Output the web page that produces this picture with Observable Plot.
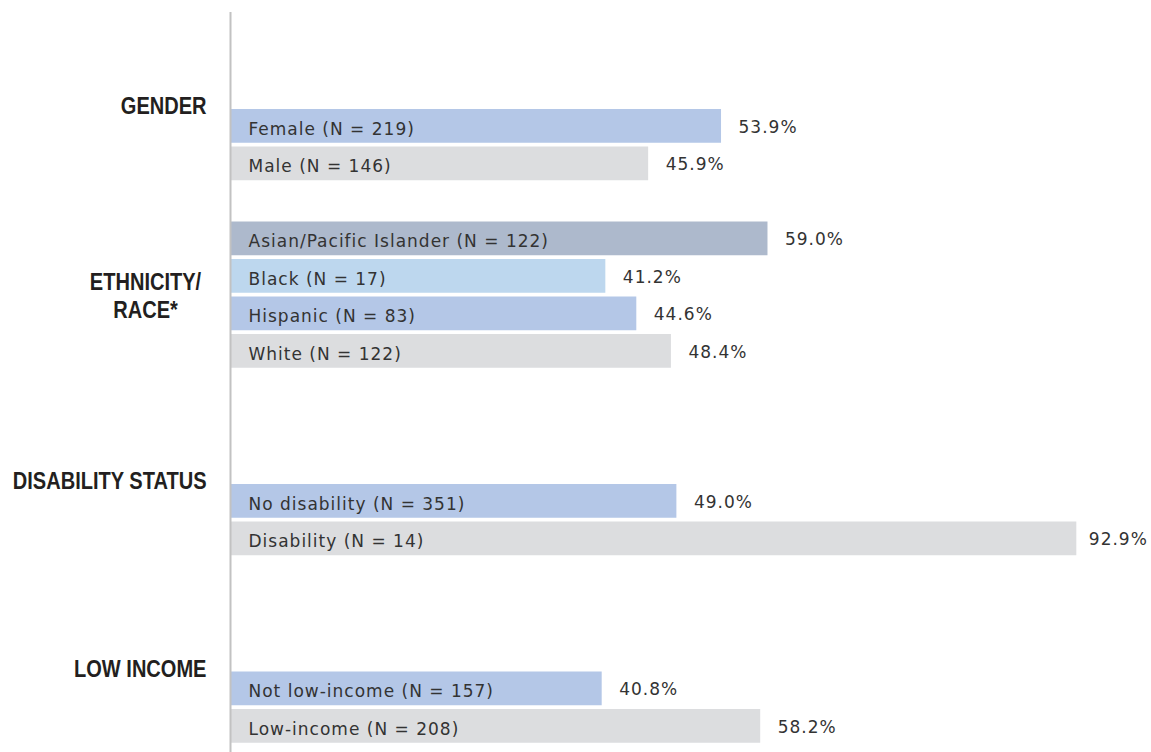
<!DOCTYPE html>
<html>
<head>
<meta charset="utf-8">
<script src="https://cdn.jsdelivr.net/npm/d3@7"></script>
<script src="https://cdn.jsdelivr.net/npm/@observablehq/plot@0.6"></script>
<style>
  html, body { margin: 0; padding: 0; background: #ffffff; }
  #chart svg { display: block; }
</style>
</head>
<body>
<div id="chart"></div>
<script>
// ---- Data ----
const categories = [
  "Female (N = 219)", "Male (N = 146)",
  "Asian/Pacific Islander (N = 122)", "Black (N = 17)", "Hispanic (N = 83)", "White (N = 122)",
  "No disability (N = 351)", "Disability (N = 14)",
  "Not low-income (N = 157)", "Low-income (N = 208)"
];
const values = [53.9, 45.9, 59.0, 41.2, 44.6, 48.4, 49.0, 92.9, 40.8, 58.2];
const groups = [
  "GENDER", "GENDER",
  "ETHNICITY/\nRACE*", "ETHNICITY/\nRACE*", "ETHNICITY/\nRACE*", "ETHNICITY/\nRACE*",
  "DISABILITY STATUS", "DISABILITY STATUS",
  "LOW INCOME", "LOW INCOME"
];
const groupNames = ["GENDER", "ETHNICITY/\nRACE*", "DISABILITY STATUS", "LOW INCOME"];

// ---- Styles ----
const barColors = [
  "#b4c7e7", "#dcdddf",
  "#adb9cc", "#bdd7ee", "#b4c7e7", "#dcdddf",
  "#b4c7e7", "#dcdddf",
  "#b4c7e7", "#dcdddf"
];
const spacerRows = {"ETHNICITY/\nRACE*": 1, "DISABILITY STATUS": 3, "LOW INCOME": 3};

const data = categories.map((c, i) => ({category: c, value: values[i], group: groups[i]}));

// y domain with blank spacer rows between groups
const yDomain = [];
groupNames.forEach(g => {
  for (let k = 0; k < (spacerRows[g] || 0); k++) yDomain.push("__gap_" + g + k);
  data.filter(d => d.group === g).forEach(d => yDomain.push(d.category));
});

// group label anchors (first row of each group)
const groupAnchors = groupNames.map(g => {
  const rows = data.filter(d => d.group === g);
  return {group: g, category: rows[0].category, multi: g.includes("\n")};
});

const barFont = "DejaVu Sans, Verdana, sans-serif";
const headFont = "Liberation Sans, Arial, sans-serif";
const nearEdge = d => d.value > 90;

const chart = Plot.plot({
  width: 1151,
  height: 752,
  marginLeft: 230,
  marginRight: 10,
  marginTop: 12,
  marginBottom: 0,
  x: {domain: [0, 100], axis: null},
  y: {domain: yDomain, range: [109, 742.75], paddingInner: 0.1, paddingOuter: 0, round: false, axis: null},
  color: {domain: categories, range: barColors},
  marks: [
    Plot.barX(data, {x: "value", y: "category", fill: "category"}),
    Plot.ruleX([0], {stroke: "#c2c2c2", strokeWidth: 2}),
    Plot.text(data, {
      x: 0, y: "category", text: "category", textAnchor: "start", dx: 18, dy: 3,
      fill: "#333333", fontSize: 17, fontFamily: barFont
    }),
    Plot.text(data.filter(d => !nearEdge(d)), {
      x: "value", y: "category", text: d => d.value.toFixed(1) + "%", textAnchor: "start", dx: 17, dy: 1,
      fill: "#333333", fontSize: 17, fontFamily: barFont
    }),
    Plot.text(data.filter(nearEdge), {
      x: "value", y: "category", text: d => d.value.toFixed(1) + "%", textAnchor: "start", dx: 12, dy: 1,
      fill: "#333333", fontSize: 17, fontFamily: barFont
    }),
    Plot.text(groupAnchors.filter(d => !d.multi), {
      x: 0, y: "category", text: "group", textAnchor: "end", dx: -24, dy: -20,
      fill: "#231f20", fontSize: 24, fontWeight: "bold", fontFamily: headFont
    }),
    Plot.text(groupAnchors.filter(d => d.multi), {
      x: 0, y: "category", text: "group", textAnchor: "middle", dx: -85, dy: 56,
      lineHeight: 1.19, lineAnchor: "middle",
      fill: "#231f20", fontSize: 24, fontWeight: "bold", fontFamily: headFont
    })
  ]
});
document.getElementById("chart").appendChild(chart);

// bar and value labels: wide tracking like the reference
chart.querySelectorAll('g[font-family^="DejaVu Sans"] text').forEach(t => {
  t.setAttribute("letter-spacing", "1px");
});
// group headings: condensed look (narrow bold)
chart.querySelectorAll('g[font-family^="Liberation Sans"] text').forEach(t => {
  const spans = t.querySelectorAll("tspan");
  const items = spans.length ? Array.from(spans) : [t];
  items.forEach(el => {
    const w = el.getComputedTextLength();
    el.setAttribute("textLength", (w * 0.835).toFixed(1));
    el.setAttribute("lengthAdjust", "spacingAndGlyphs");
  });
});
</script>
</body>
</html>
